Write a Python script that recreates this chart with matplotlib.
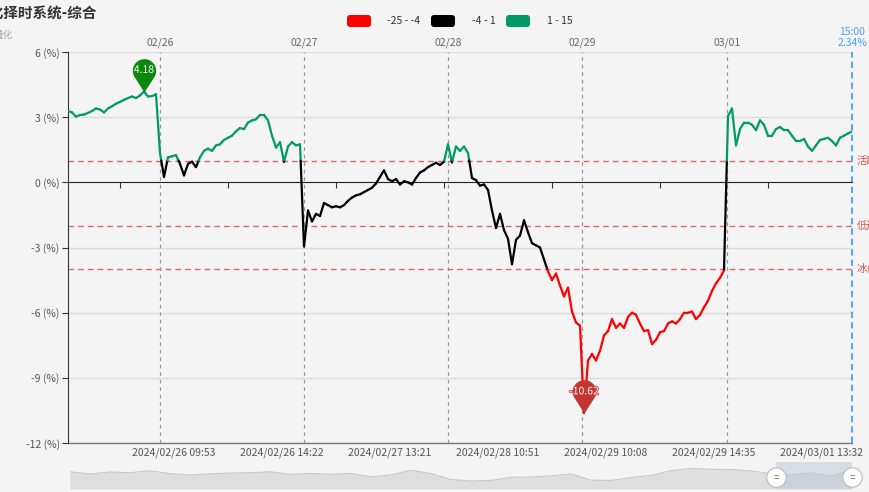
import numpy as np
import matplotlib
matplotlib.use('Agg')
import matplotlib.pyplot as plt
import matplotlib.patheffects as pe
from matplotlib.collections import LineCollection
from matplotlib.path import Path
from matplotlib.patches import FancyBboxPatch

plt.rcParams['font.family'] = ['Noto Sans CJK SC', 'DejaVu Sans']

# composite index (%), one sample per step
values = [
    3.28, 3.22, 3.02, 3.10, 3.12, 3.20, 3.28, 3.40, 3.35, 3.22,
    3.40, 3.50, 3.62, 3.70, 3.80, 3.88, 3.95, 3.88, 4.00, 4.18,
    3.95, 3.97, 4.05, 1.35, 0.25, 1.15, 1.20, 1.25, 0.85, 0.32,
    0.85, 0.95, 0.70, 1.15, 1.45, 1.55, 1.45, 1.70, 1.75, 1.95,
    2.05, 2.15, 2.35, 2.50, 2.45, 2.75, 2.85, 2.90, 3.10, 3.10,
    2.85, 2.15, 1.60, 1.85, 0.95, 1.65, 1.85, 1.70, 1.75, -2.95,
    -1.30, -1.80, -1.45, -1.55, -0.95, -1.05, -1.15, -1.10, -1.15, -1.05,
    -0.85, -0.70, -0.60, -0.55, -0.45, -0.35, -0.25, -0.05, 0.25, 0.55,
    0.15, 0.05, 0.15, -0.10, 0.05, 0.00, -0.10, 0.20, 0.45, 0.55,
    0.70, 0.80, 0.90, 0.80, 0.95, 1.75, 0.92, 1.65, 1.45, 1.65,
    1.35, 0.20, 0.10, -0.15, -0.10, -0.35, -1.30, -2.10, -1.45, -2.20,
    -2.60, -3.77, -2.65, -2.45, -1.75, -2.30, -2.80, -2.90, -3.00, -3.55,
    -4.10, -4.50, -4.20, -4.75, -5.25, -4.85, -5.95, -6.45, -6.60, -10.62,
    -8.20, -7.90, -8.20, -7.75, -7.05, -6.85, -6.30, -6.70, -6.50, -6.70,
    -6.20, -6.00, -6.10, -6.50, -6.85, -6.80, -7.45, -7.25, -6.90, -6.85,
    -6.50, -6.40, -6.50, -6.30, -6.00, -6.00, -5.95, -6.30, -6.10, -5.75,
    -5.45, -5.00, -4.65, -4.40, -4.05, 3.05, 3.40, 1.70, 2.45, 2.75,
    2.75, 2.65, 2.40, 2.85, 2.65, 2.15, 2.15, 2.45, 2.55, 2.40,
    2.40, 2.15, 1.90, 1.90, 2.00, 1.65, 1.45, 1.70, 1.95, 2.00,
    2.05, 1.90, 1.70, 2.05, 2.15, 2.25, 2.34,
]
day_labels = ['02/26', '02/27', '02/28', '02/29', '03/01']
day_starts = [23, 59, 95, 128.5, 164.75]
time_labels = ['2024/02/26 09:53', '2024/02/26 14:22', '2024/02/27 13:21',
               '2024/02/28 10:51', '2024/02/29 10:08', '2024/02/29 14:35',
               '2024/03/01 13:32']
levels = [1, -2, -4]
level_names = ['活跃', '低迷', '冰点']
piece_labels = ['-25 - -4', '-4 - 1', '1 - 15']
piece_colors = ['#ff0000', '#000000', '#009a66']
# overview series in the zoom slider
preview = [17.3, 15.0, 17.0, 16.3, 18.3, 15.4, 14.0, 15.2, 16.0, 16.3,
           17.2, 14.7, 15.6, 14.8, 15.6, 12.2, 14.0, 18.7, 15.5, 9.5,
           8.0, 8.6, 11.7, 12.0, 13.2, 15.0, 8.8, 8.6, 11.6, 13.7,
           18.5, 20.6, 19.7, 19.5, 18.0, 15.3, 14.5, 16.0, 13.0, 19.0]
last_time = '15:00'

BG = '#f4f4f4'
fig = plt.figure(figsize=(8.7, 4.92), dpi=100, facecolor=BG)
ax = fig.add_axes([68 / 870, 1 - 443 / 492, 784 / 870, 391 / 492], facecolor=BG)

x = np.arange(len(values))
y = np.array(values)
n = len(values) - 1


def piece_color(v):
    if v < -4:
        return piece_colors[0]
    if v < 1:
        return piece_colors[1]
    return piece_colors[2]


segs, cols = [], []
for x0, y0, x1, y1 in zip(x[:-1], y[:-1], x[1:], y[1:]):
    cuts = [0.0, 1.0]
    for b in (-4, 1):
        if (y0 - b) * (y1 - b) < 0:
            cuts.append((b - y0) / (y1 - y0))
    cuts.sort()
    for t0, t1 in zip(cuts[:-1], cuts[1:]):
        ya, yb = y0 + t0 * (y1 - y0), y0 + t1 * (y1 - y0)
        segs.append([(x0 + t0 * (x1 - x0), ya), (x0 + t1 * (x1 - x0), yb)])
        cols.append(piece_color((ya + yb) / 2))
lc = LineCollection(segs, colors=cols, linewidths=1.6, capstyle='round',
                    joinstyle='round', zorder=5)
ax.add_collection(lc)

ax.set_xlim(0, n)
ax.set_ylim(-12, 6)

# grid
for g in [6, 3, -3, -6, -9]:
    ax.axhline(g, color='#dcdcdc', lw=1, zorder=1)
ax.axhline(-12, color='#777777', lw=1, zorder=2, clip_on=False)
for d in day_starts:
    ax.axvline(d, color='#999999', lw=0.9, ls=(0, (3, 3)), zorder=2)
for lv, name in zip(levels, level_names):
    ax.axhline(lv, color='#e06666', lw=1, ls=(0, (4, 3)), zorder=2)
    ax.text(n + 1.2, lv, name, color='#d9534f', fontsize=7.5, va='center',
            ha='left', clip_on=False)
ax.axvline(n, color='#5aa5f5', lw=1.5, ls=(0, (3, 2)), zorder=3, clip_on=False)
ax.text(n, 6.92, last_time, color='#4a9ff5', fontsize=7.5, ha='center', va='center')
ax.text(n, 6.41, f'{values[-1]:.2f}%', color='#4a9ff5', fontsize=7.5,
        ha='center', va='center')

# axes
for s in ['top', 'right']:
    ax.spines[s].set_visible(False)
ax.spines['left'].set_color('#333333')
ax.spines['bottom'].set_position(('data', 0))
ax.spines['bottom'].set_color('#222222')
ax.spines['bottom'].set_zorder(4)
yt = [6, 3, 0, -3, -6, -9, -12]
ax.set_yticks(yt)
ax.set_yticklabels([f'{v} (%)' for v in yt])
ax.tick_params(axis='y', length=4, color='#333333', labelsize=7.5,
               labelcolor='#555555', pad=2)
tick_pos = [13 + 27 * k for k in range(len(time_labels))]
ax.set_xticks(tick_pos)
ax.tick_params(axis='x', length=4, color='#333333', labelbottom=False)
for p, lbl in zip(tick_pos, time_labels):
    ax.text(p + 13.5, -12.46, lbl, fontsize=7.5, color='#555555',
            ha='center', va='center', clip_on=False)
for d, lbl in zip(day_starts, day_labels):
    ax.text(d, 6.41, lbl, fontsize=7.5, color='#666666', ha='center',
            va='center', clip_on=False)

# pin markers for max / min
c = 1.85
a = np.arcsin(1 / c)
theta = np.linspace(-a, np.pi + a, 50)
verts = [(0, 0)] + [(np.cos(t), c + np.sin(t)) for t in theta] + [(0, 0)]
codes = [Path.MOVETO] + [Path.LINETO] * len(theta) + [Path.CLOSEPOLY]
pin = Path(verts, codes)
ms = 48
for idx, colr in [(int(np.argmax(y)), '#0b870b'), (int(np.argmin(y)), '#c23531')]:
    ax.plot(idx, y[idx], marker=pin, ms=ms, mfc=colr, mec='none', zorder=8,
            clip_on=False)
    t = ax.annotate(f'{y[idx]:.2f}', (idx, y[idx]), xytext=(0, c * 0.5 / (c + 1) * ms),
                    textcoords='offset points', ha='center', va='center',
                    color='white', fontsize=7.5, zorder=9)
    t.set_path_effects([pe.withStroke(linewidth=1.2, foreground=colr)])

# title
fig.text(97 / 870, 1 - 13 / 492, '量化择时系统-综合', fontsize=10.5,
         fontweight='bold', color='#333333', ha='right', va='center')
fig.text(13 / 870, 1 - 35 / 492, '量化', fontsize=7, color='#aaaaaa',
         ha='right', va='center')

# legend
box_x = [347, 431, 506]
txt_x = [387, 472, 547]
for bx, tx, colr, lbl in zip(box_x, txt_x, piece_colors, piece_labels):
    fig.add_artist(FancyBboxPatch((bx / 100, (492 - 27) / 100), 0.24, 0.12,
                                  boxstyle='round,pad=0,rounding_size=0.03',
                                  transform=fig.dpi_scale_trans, fc=colr, ec='none'))
    fig.text(tx / 870, 1 - 21 / 492, lbl, fontsize=7.5, color='#333333',
             ha='left', va='center')

# data zoom slider
ax2 = fig.add_axes([70 / 870, 3 / 492, 782 / 870, 27 / 492], facecolor=BG)
px = np.arange(len(preview))
ax2.fill_between(px, 0, preview, color='#dedede', lw=0)
ax2.plot(px, preview, color='#c8c8c8', lw=0.8)
ax2.set_xlim(0, len(preview) - 1)
ax2.set_ylim(0, 27)
ax2.axis('off')
sel0 = (776 - 70) / 782
ax2.axvspan(sel0 * (len(preview) - 1), len(preview) - 1, color='#b4c3d8', alpha=0.45, lw=0)
for hx in [sel0, 1.0]:
    ax2.plot([hx], [0.45], 'o', transform=ax2.transAxes, ms=14, mfc='white',
             mec='#bbbbbb', mew=0.8, clip_on=False, zorder=6)
    ax2.text(hx, 0.45, '=', transform=ax2.transAxes, ha='center', va='center',
             fontsize=7, color='#777777', zorder=7)

fig.savefig('out.png', dpi=100, facecolor=BG)
